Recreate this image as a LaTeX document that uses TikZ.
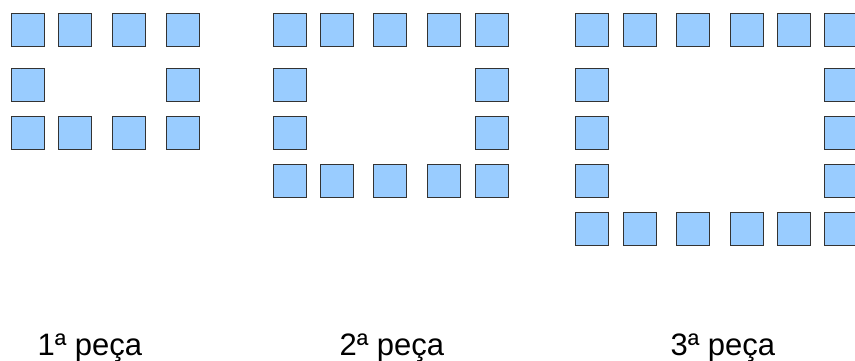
\documentclass[tikz,border=0pt]{standalone}
\usepackage{fontspec}
\setmainfont{Liberation Sans}
\begin{document}
\begin{tikzpicture}[x=1pt,y=-1pt,
  tile/.style={draw=black!80,line width=1pt,fill={rgb,255:red,153;green,204;blue,255},
    rectangle,minimum size=33pt,inner sep=0pt},
  caption/.style={anchor=base west,inner sep=0pt,font=\fontsize{31pt}{36pt}\selectfont}]
\useasboundingbox (0,0) rectangle (855,361);
\clip (0,0) rectangle (855,361);
% figure 1
\foreach \x [count=\i] in {11,58.3,111.7,165.7}{
  \node[tile] (a-t\i) at (\x+17,12.7+17) {};
  \node[tile] (a-b\i) at (\x+17,115.7+17) {};
}
\node[tile] (a-l1) at (11+17,67.7+17) {};
\node[tile] (a-r1) at (165.7+17,67.7+17) {};
% figure 2
\foreach \x [count=\i] in {273.3,320,373.3,427.3,474.7}{
  \node[tile] (b-t\i) at (\x+17,12.7+17) {};
  \node[tile] (b-b\i) at (\x+17,163.7+17) {};
}
\foreach \y [count=\i] in {67.7,115.7}{
  \node[tile] (b-l\i) at (273.3+17,\y+17) {};
  \node[tile] (b-r\i) at (474.7+17,\y+17) {};
}
% figure 3
\foreach \x [count=\i] in {575.3,622.7,676.3,730.3,777.3,824.3}{
  \node[tile] (c-t\i) at (\x+17,12.7+17) {};
  \node[tile] (c-b\i) at (\x+17,211.7+17) {};
}
\foreach \y [count=\i] in {67.7,115.7,163.7}{
  \node[tile] (c-l\i) at (575.3+17,\y+17) {};
  \node[tile] (c-r\i) at (824.3+17,\y+17) {};
}
% captions
\node[caption] (cap1) at (37.5,355) {1ª peça};
\node[caption] (cap2) at (339.5,355) {2ª peça};
\node[caption] (cap3) at (670.5,355) {3ª peça};
\end{tikzpicture}
\end{document}
